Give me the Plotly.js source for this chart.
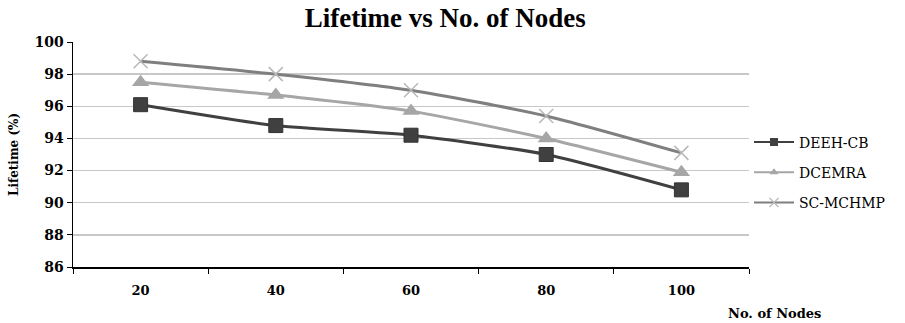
<!DOCTYPE html>
<html><head><meta charset="utf-8">
<script src="https://cdn.plot.ly/plotly-3.0.1.min.js"></script>
<style>html,body{margin:0;padding:0;background:#fff;}#chart{width:905px;height:323px;}</style>
</head><body><div id="chart"></div>
<script>
const categories = ["20", "40", "60", "80", "100"];
const deehcb = [96.1, 94.8, 94.2, 93.0, 90.8];
const dcemra = [97.5, 96.7, 95.7, 94.0, 91.9];
const scmchmp = [98.8, 98.0, 97.0, 95.4, 93.1];
const seriesNames = ["DEEH-CB", "DCEMRA", "SC-MCHMP"];
const yTicks = [86, 88, 90, 92, 94, 96, 98, 100];

const serif = "DejaVu Serif";
const times = "Liberation Serif";
const styles = [
  {line: '#404040', marker: {symbol: 'square', size: 14, color: '#404040', line: {color: '#333', width: 1}}, lm: {symbol: 'square', size: 8, color: '#404040'}},
  {line: '#a6a6a6', marker: {symbol: 'triangle-up', size: 15, color: '#a6a6a6'}, lm: {symbol: 'triangle-up', size: 8, color: '#a6a6a6'}},
  {line: '#7f7f7f', marker: {symbol: 'x-thin-open', size: 14, color: '#b8b8b8', line: {color: '#b8b8b8', width: 1.5}}, lm: {symbol: 'x-thin-open', size: 9, color: '#b8b8b8', line: {color: '#b8b8b8', width: 1.2}}}
];
const allY = [deehcb, dcemra, scmchmp];
const traces = [];
allY.forEach((ys, i) => {
  traces.push({x: categories, y: ys, type: 'scatter', mode: 'lines+markers', name: seriesNames[i],
    showlegend: false, line: {color: styles[i].line, width: 3, shape: 'spline', smoothing: 0.6}, marker: styles[i].marker});
});
allY.forEach((ys, i) => {
  traces.push({x: [null], y: [null], type: 'scatter', mode: 'lines+markers', name: seriesNames[i], legendgroup: 'g' + i,
    showlegend: true, line: {color: styles[i].line, width: 2}, marker: styles[i].lm});
});

const layout = {
  width: 905, height: 323,
  margin: {l: 73, r: 156, t: 42, b: 56},
  paper_bgcolor: '#fff', plot_bgcolor: '#fff',
  title: {text: '<b>Lifetime vs No. of Nodes</b>', font: {family: times, size: 27, color: '#000'}, x: 0.492, xref: 'container', y: 0.946, yref: 'container', xanchor: 'center', yanchor: 'middle'},
  xaxis: {type: 'category', range: [-0.5, 4.5], tickson: 'boundaries', ticks: 'outside', ticklen: 5, tickcolor: '#000',
    showline: true, linecolor: '#000', linewidth: 1.5, showgrid: false, zeroline: false, ticklabelstandoff: 11,
    tickfont: {family: serif, size: 13, color: '#000', weight: 'bold'}},
  yaxis: {range: [86, 100], tickvals: yTicks, ticktext: yTicks.map(String), ticks: 'outside', ticklen: 5, tickcolor: '#000',
    showline: true, linecolor: '#000', linewidth: 1.5, gridcolor: '#c8c8c8', gridwidth: 1.5, zeroline: false,
    tickfont: {family: serif, size: 14, color: '#000', weight: 'bold'}},
  legend: {x: 1.0, xanchor: 'left', y: 0.42, yanchor: 'middle', font: {family: serif, size: 14, color: '#000'},
    bgcolor: 'rgba(0,0,0,0)', tracegroupgap: 9, itemwidth: 40},
  annotations: [
    {text: '<b>No. of Nodes</b>', xref: 'paper', yref: 'paper', x: 1.038, y: -0.205, xanchor: 'center', yanchor: 'middle', showarrow: false, font: {family: serif, size: 13, color: '#000'}},
    {text: '<b>Lifetime (%)</b>', xref: 'paper', yref: 'paper', x: -0.088, y: 0.5, xanchor: 'center', yanchor: 'middle', textangle: -90, showarrow: false, font: {family: serif, size: 12, color: '#000'}}
  ]
};
Plotly.newPlot('chart', traces, layout, {displayModeBar: false, staticPlot: true});
</script></body></html>
